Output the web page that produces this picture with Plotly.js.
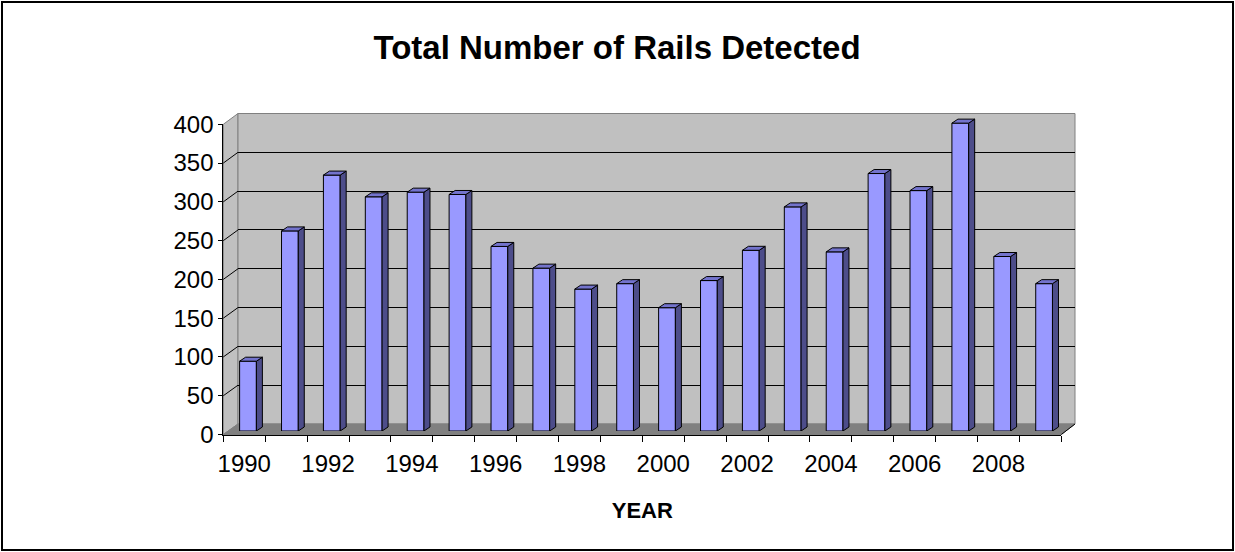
<!DOCTYPE html>
<html><head><meta charset="utf-8">
<script src="https://cdn.plot.ly/plotly-3.0.1.min.js"></script>
<style>html,body{margin:0;padding:0;background:#fff}#chart{width:1235px;height:552px}</style>
</head><body><div id="chart"></div>
<script>
// ---- data ----
const years = [1990,1991,1992,1993,1994,1995,1996,1997,1998,1999,2000,2001,2002,2003,2004,2005,2006,2007,2008,2009];
const rails = [90,258,330,302,308,305,238,210,183,190,159,194,233,289,231,332,310,397,225,190];
const tickYears = [1990,1992,1994,1996,1998,2000,2002,2004,2006,2008];
const tickText = ['1990','1992','1994','1996','1998','2000','2002','2004','2006','2008'];
const yTickVals = [0,50,100,150,200,250,300,350,400];
const gridVals = [50,100,150,200,250,300,350];

// ---- geometry (pixels) ----
const W = 1235, H = 552;
const PX = v => v / W, PY = v => 1 - v / H;
const front = {x0: 223.3, x1: 1061.3, y0: 434.5, y1: 124.3};
const back = {x0: 238, x1: 1075, y0: 424, y1: 113.5};
const pxPerYear = 41.9, pxPerUnit = 0.7755;
const barX0 = 248 - pxPerYear / 2, barY0 = 431;
const xr3 = [1989.5, 2010.5], yr3 = [0, 420];
const halfW = 0.2, depthX = 6 / pxPerYear, depthY = 4 / pxPerUnit;

const sideX = [], sideY = [], topX = [], topY = [];
years.forEach((yr, i) => {
  const v = rails[i], xl = yr - halfW, xr = yr + halfW;
  sideX.push(xr, xr, xr + depthX, xr + depthX, xr, null);
  sideY.push(0, v, v + depthY, depthY, 0, null);
  topX.push(xl, xr, xr + depthX, xl + depthX, xl, null);
  topY.push(v, v, v + depthY, v + depthY, v, null);
});

const font = 'Liberation Sans, Arial, sans-serif';

const traces = [
  {type: 'scatter', x: [], y: [], xaxis: 'x', yaxis: 'y', hoverinfo: 'skip', showlegend: false},
  {type: 'scatter', x: [], y: [], xaxis: 'x2', yaxis: 'y2', hoverinfo: 'skip', showlegend: false},
  {type: 'bar', x: years, y: rails, xaxis: 'x3', yaxis: 'y3', width: 0.4, showlegend: false,
   marker: {color: '#9999FF', line: {color: '#000', width: 1}}},
  {type: 'scatter', mode: 'lines', x: sideX, y: sideY, xaxis: 'x3', yaxis: 'y3', fill: 'toself',
   fillcolor: '#4D4D8A', line: {color: '#000', width: 1}, hoverinfo: 'skip', showlegend: false},
  {type: 'scatter', mode: 'lines', x: topX, y: topY, xaxis: 'x3', yaxis: 'y3', fill: 'toself',
   fillcolor: '#7373CC', line: {color: '#000', width: 1}, hoverinfo: 'skip', showlegend: false}
];

const shapes = [];
// side wall
shapes.push({type: 'path', xref: 'paper', yref: 'paper', layer: 'below',
  path: `M${PX(front.x0)},${PY(front.y0)} L${PX(front.x0)},${PY(front.y1)} L${PX(back.x0)},${PY(back.y1)} L${PX(back.x0)},${PY(back.y0)} Z`,
  fillcolor: '#C0C0C0', line: {color: '#808080', width: 1}});
// back wall
shapes.push({type: 'rect', xref: 'paper', yref: 'paper', layer: 'below',
  x0: PX(back.x0), x1: PX(back.x1), y0: PY(back.y0), y1: PY(back.y1),
  fillcolor: '#C0C0C0', line: {color: '#808080', width: 1}});
// floor
shapes.push({type: 'path', xref: 'paper', yref: 'paper', layer: 'below',
  path: `M${PX(front.x0)},${PY(front.y0)} L${PX(front.x1)},${PY(front.y0)} L${PX(back.x1)},${PY(back.y0)} L${PX(back.x0)},${PY(back.y0)} Z`,
  fillcolor: '#808080', line: {color: '#808080', width: 1}});
shapes.push({type: 'line', xref: 'paper', yref: 'paper', layer: 'above',
  x0: PX(front.x1), y0: PY(front.y0), x1: PX(back.x1), y1: PY(back.y0), line: {color: '#000', width: 1}});
// side wall grid diagonals
gridVals.forEach(v => {
  const yf = front.y0 + (front.y1 - front.y0) * v / 400;
  const yb = back.y0 + (back.y1 - back.y0) * v / 400;
  shapes.push({type: 'line', xref: 'paper', yref: 'paper', layer: 'below',
    x0: PX(front.x0), y0: PY(yf), x1: PX(back.x0), y1: PY(yb), line: {color: '#000', width: 1}});
});
// outer frame
shapes.push({type: 'rect', xref: 'paper', yref: 'paper', layer: 'above',
  x0: PX(2), x1: PX(1233), y0: PY(550), y1: PY(2), line: {color: '#000', width: 2}, fillcolor: 'rgba(0,0,0,0)'});

const layout = {
  width: W, height: H,
  margin: {l: 0, r: 0, t: 0, b: 0, autoexpand: false},
  paper_bgcolor: '#fff', plot_bgcolor: 'rgba(0,0,0,0)',
  showlegend: false,
  font: {family: font, color: '#000', size: 24},
  title: {text: '<b>Total Number of Rails Detected</b>', font: {family: font, size: 33, color: '#000'},
          x: PX(617), xanchor: 'center', xref: 'paper', y: PY(47), yanchor: 'middle', yref: 'paper'},
  xaxis: {domain: [PX(back.x0), PX(back.x1)], range: [1989.5, 2009.5], anchor: 'y',
          showgrid: false, zeroline: false, showline: false, ticks: '', showticklabels: false, fixedrange: true},
  yaxis: {domain: [PY(back.y0), PY(back.y1)], range: [0, 400], anchor: 'x', tickmode: 'array', tickvals: gridVals,
          showgrid: true, gridcolor: '#000', gridwidth: 1, zeroline: false, showline: false, ticks: '',
          showticklabels: false, fixedrange: true},
  xaxis2: {domain: [PX(front.x0), PX(front.x1)], range: [1989.5, 2009.5], anchor: 'y2',
           tickmode: 'array', tickvals: tickYears, ticktext: tickText, ticks: '',
           minor: {ticks: 'outside', ticklen: 6, tickcolor: '#000', tickwidth: 1, tick0: 1989.5, dtick: 1, showgrid: false},
           showgrid: false, zeroline: false, showline: true, linecolor: '#000', linewidth: 1,
           tickfont: {family: font, size: 24, color: '#000'}, ticklabelstandoff: 8,
           title: {text: '<b>YEAR</b>', font: {family: font, size: 22, color: '#000'}, standoff: 26},
           fixedrange: true},
  yaxis2: {domain: [PY(front.y0), PY(front.y1)], range: [0, 400], anchor: 'x2', tickmode: 'array', tickvals: yTickVals,
           ticks: 'outside', ticklen: 4, tickcolor: '#000', showgrid: false, zeroline: false,
           showline: true, linecolor: '#000', linewidth: 1, tickfont: {family: font, size: 24, color: '#000'},
           fixedrange: true},
  xaxis3: {domain: [PX(barX0), PX(barX0 + (xr3[1] - xr3[0]) * pxPerYear)], range: xr3, anchor: 'y3', visible: false, fixedrange: true},
  yaxis3: {domain: [PY(barY0), PY(barY0 - (yr3[1] - yr3[0]) * pxPerUnit)], range: yr3, anchor: 'x3', visible: false, fixedrange: true},
  shapes: shapes,
  bargap: 0
};

Plotly.newPlot('chart', traces, layout, {displayModeBar: false, staticPlot: true});
</script>
</body></html>
